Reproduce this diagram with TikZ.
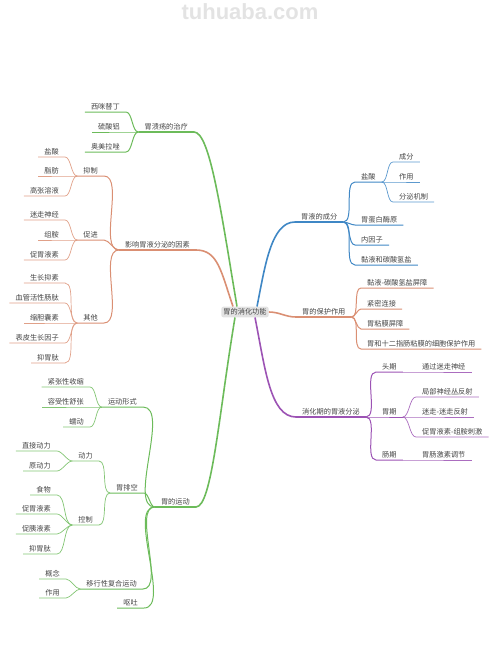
\documentclass[tikz,border=0pt]{standalone}
\usepackage{fontspec}
\setmainfont{Noto Sans CJK SC}
\newfontfamily\markfont{Liberation Sans}
\usepackage{tikz}
\usetikzlibrary{positioning, calc}
\usepackage{xcolor}
\definecolor{MapGreen}{HTML}{6CBB5A}
\definecolor{MapBlue}{HTML}{3F87C5}
\definecolor{MapSalmon}{HTML}{DA8F73}
\definecolor{MapPurple}{HTML}{9C53B4}
\definecolor{RootGray}{HTML}{E2E2E2}
\definecolor{TextGray}{HTML}{444444}

\begin{document}
\begin{tikzpicture}[
  x=1pt, y=-1pt,
  topic/.style={
    font=\fontsize{7.2}{8}\selectfont, text=TextGray,
    inner xsep=6pt, inner ysep=2pt
  },
  rtopic/.style={topic, anchor=south west},
  ltopic/.style={topic, anchor=south east},
  root/.style={
    font=\fontsize{7.2}{8}\selectfont, text=TextGray, fill=RootGray,
    rounded corners=2pt, inner xsep=2pt, inner ysep=2pt
  },
  trunk/.style={line width=1.6pt},
  twig/.style={line width=1pt},
  leafline/.style={line width=0.7pt},
  rfan/.style={out=0, in=180, looseness=0.7},
  lfan/.style={out=180, in=0, looseness=0.7}
]
  \useasboundingbox (0,0) rectangle (500,648);
  \node[font=\markfont\bfseries\fontsize{22}{24}\selectfont, text=gray!22] (mark) at (250,12) {tuhuaba.com};

  \node[root] (root) at (245,312) {胃的消化功能};

  % Right: gastric juice
  \node[rtopic] (comp) at (295,222) {胃液的成分};
  \node[rtopic] (hcl) at (355,182) {盐酸};
  \node[rtopic] (hclA) at (393,162) {成分};
  \node[rtopic] (hclB) at (393,182) {作用};
  \node[rtopic] (hclC) at (393,202) {分泌机制};
  \node[rtopic] (pepsin) at (355,225) {胃蛋白酶原};
  \node[rtopic] (intrin) at (355,245) {内因子};
  \node[rtopic] (mucus) at (355,265) {黏液和碳酸氢盐};
  \draw[MapBlue, trunk] ([xshift=12pt]root.north) .. controls +(8,-40) and +(-24,0) .. (comp.south west) -- (comp.south east);
  \foreach \n in {hcl, pepsin, intrin, mucus}
    \draw[MapBlue, twig] (comp.south east) to[rfan] (\n.south west) -- (\n.south east);
  \foreach \n in {hclA, hclB, hclC}
    \draw[MapBlue!85, leafline] (hcl.south east) to[rfan] (\n.south west) -- (\n.south east);

  % Right: protection
  \node[rtopic] (guard) at (296,317) {胃的保护作用};
  \node[rtopic] (guardA) at (361,288) {黏液-碳酸氢盐屏障};
  \node[rtopic] (guardB) at (361,309) {紧密连接};
  \node[rtopic] (guardC) at (361,329) {胃粘膜屏障};
  \node[rtopic] (guardD) at (361,349) {胃和十二指肠粘膜的细胞保护作用};
  \draw[MapSalmon, trunk] (root.east) to[out=0, in=180] (guard.south west) -- (guard.south east);
  \foreach \n in {guardA, guardB, guardC, guardD}
    \draw[MapSalmon, twig] (guard.south east) to[rfan] (\n.south west) -- (\n.south east);

  % Right: secretion phases
  \node[rtopic] (phase) at (296,417) {消化期的胃液分泌};
  \node[rtopic] (ceph) at (376,372) {头期};
  \node[rtopic] (cephA) at (416,372) {通过迷走神经};
  \node[rtopic] (gastr) at (376,417) {胃期};
  \node[rtopic] (gastrA) at (416,397) {局部神经丛反射};
  \node[rtopic] (gastrB) at (416,417) {迷走-迷走反射};
  \node[rtopic] (gastrC) at (416,437) {促胃液素-组胺刺激};
  \node[rtopic] (intes) at (376,460) {肠期};
  \node[rtopic] (intesA) at (416,460) {胃肠激素调节};
  \draw[MapPurple, trunk] ([xshift=10pt]root.south) .. controls +(10,50) and +(-26,0) .. (phase.south west) -- (phase.south east);
  \foreach \n in {ceph, gastr, intes}
    \draw[MapPurple, twig] (phase.south east) to[rfan] (\n.south west) -- (\n.south east);
  \draw[MapPurple!85, leafline] (ceph.south east) -- (cephA.south west) -- (cephA.south east);
  \draw[MapPurple!85, leafline] (intes.south east) -- (intesA.south west) -- (intesA.south east);
  \foreach \n in {gastrA, gastrB, gastrC}
    \draw[MapPurple!85, leafline] (gastr.south east) to[rfan] (\n.south west) -- (\n.south east);

  % Left: ulcer treatment
  \node[ltopic] (ulcer) at (194,132) {胃溃疡的治疗};
  \node[ltopic] (ulcerA) at (126,112) {西咪替丁};
  \node[ltopic] (ulcerB) at (126,132) {硫酸铝};
  \node[ltopic] (ulcerC) at (126,152) {奥美拉唑};
  \draw[MapGreen, trunk] ([xshift=-8pt]root.north) .. controls +(-16,-95) and +(16,0) .. (ulcer.south east) -- (ulcer.south west);
  \foreach \n in {ulcerA, ulcerB, ulcerC}
    \draw[MapGreen, twig] (ulcer.south west) to[lfan] (\n.south east) -- (\n.south west);

  % Left: secretion factors
  \node[ltopic] (factor) at (196,250) {影响胃液分泌的因素};
  \node[ltopic] (inhib) at (104,176) {抑制};
  \node[ltopic] (inhibA) at (65,157) {盐酸};
  \node[ltopic] (inhibB) at (65,176) {脂肪};
  \node[ltopic] (inhibC) at (65,196) {高张溶液};
  \node[ltopic] (promo) at (104,240) {促进};
  \node[ltopic] (promoA) at (65,220) {迷走神经};
  \node[ltopic] (promoB) at (65,240) {组胺};
  \node[ltopic] (promoC) at (65,260) {促胃液素};
  \node[ltopic] (other) at (104,323) {其他};
  \node[ltopic] (otherA) at (65,283) {生长抑素};
  \node[ltopic] (otherB) at (65,303) {血管活性肠肽};
  \node[ltopic] (otherC) at (65,323) {缩胆囊素};
  \node[ltopic] (otherD) at (65,343) {表皮生长因子};
  \node[ltopic] (otherE) at (65,363) {抑胃肽};
  \draw[MapSalmon, trunk] ([xshift=-12pt]root.north) .. controls +(-12,-35) and +(22,0) .. (factor.south east) -- (factor.south west);
  \foreach \n in {inhib, promo, other}
    \draw[MapSalmon, twig] (factor.south west) to[lfan] (\n.south east) -- (\n.south west);
  \foreach \n in {inhibA, inhibB, inhibC}
    \draw[MapSalmon!85, leafline] (inhib.south west) to[lfan] (\n.south east) -- (\n.south west);
  \foreach \n in {promoA, promoB, promoC}
    \draw[MapSalmon!85, leafline] (promo.south west) to[lfan] (\n.south east) -- (\n.south west);
  \foreach \n in {otherA, otherB, otherC, otherD, otherE}
    \draw[MapSalmon!85, leafline] (other.south west) to[lfan] (\n.south east) -- (\n.south west);

  % Left: gastric motility
  \node[ltopic] (motion) at (196,507) {胃的运动};
  \node[ltopic] (form) at (143,407) {运动形式};
  \node[ltopic] (formA) at (90,387) {紧张性收缩};
  \node[ltopic] (formB) at (90,407) {容受性舒张};
  \node[ltopic] (formC) at (90,427) {蠕动};
  \node[ltopic] (empty) at (144,493) {胃排空};
  \node[ltopic] (force) at (99,461) {动力};
  \node[ltopic] (forceA) at (57,451) {直接动力};
  \node[ltopic] (forceB) at (57,471) {原动力};
  \node[ltopic] (ctrl) at (99,525) {控制};
  \node[ltopic] (ctrlA) at (57,495) {食物};
  \node[ltopic] (ctrlB) at (57,514) {促胃液素};
  \node[ltopic] (ctrlC) at (57,534) {促胰液素};
  \node[ltopic] (ctrlD) at (57,554) {抑胃肽};
  \node[ltopic] (mmc) at (143,589) {移行性复合运动};
  \node[ltopic] (mmcA) at (66,579) {概念};
  \node[ltopic] (mmcB) at (66,598) {作用};
  \node[ltopic] (vomit) at (144,608) {呕吐};
  \draw[MapGreen, trunk] ([xshift=-10pt]root.south) .. controls +(-16,95) and +(16,0) .. (motion.south east) -- (motion.south west);
  \foreach \n in {form, empty, mmc, vomit}
    \draw[MapGreen, twig] (motion.south west) to[lfan] (\n.south east) -- (\n.south west);
  \foreach \n in {formA, formB, formC}
    \draw[MapGreen!85, leafline] (form.south west) to[lfan] (\n.south east) -- (\n.south west);
  \foreach \n in {force, ctrl}
    \draw[MapGreen!85, leafline] (empty.south west) to[lfan] (\n.south east) -- (\n.south west);
  \foreach \n in {forceA, forceB}
    \draw[MapGreen!85, leafline] (force.south west) to[lfan] (\n.south east) -- (\n.south west);
  \foreach \n in {ctrlA, ctrlB, ctrlC, ctrlD}
    \draw[MapGreen!85, leafline] (ctrl.south west) to[lfan] (\n.south east) -- (\n.south west);
  \foreach \n in {mmcA, mmcB}
    \draw[MapGreen!85, leafline] (mmc.south west) to[lfan] (\n.south east) -- (\n.south west);
\end{tikzpicture}
\end{document}
